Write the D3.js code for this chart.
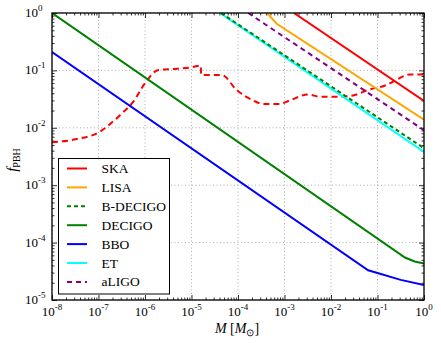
<!DOCTYPE html>
<html>
<head>
<meta charset="utf-8">
<script src="https://cdn.jsdelivr.net/npm/d3@7"></script>
<style>
  body { margin: 0; background: #fff; }
  svg text { font-family: "Liberation Serif", "Times New Roman", Times, serif; fill: #000; }
</style>
</head>
<body>
<div id="chart"></div>
<script>
// values (M in solar masses, f = f_PBH)
var skaM = [1.6e-3, 1];
var skaF = [1, 0.0295];
var lisaM = [4.2e-4, 6.8e-4, 1];
var lisaF = [1, 0.65, 0.0138];
var bdecigoM = [4.3e-5, 1];
var bdecigoF = [1, 4.4e-3];
var decigoM = [1e-8, 0.39, 0.63, 1];
var decigoF = [1, 5.5e-5, 4.7e-5, 4.3e-5];
var bboM = [1e-8, 0.063, 0.1, 0.316, 1];
var bboF = [0.209, 3.3e-5, 2.95e-5, 2.24e-5, 1.82e-5];
var etM = [4.1e-5, 1];
var etF = [1, 3.8e-3];
var aligoM = [1.66e-4, 1];
var aligoF = [1, 9.1e-3];

// red dashed constraint curve
var boundM = [1e-8, 3.2e-8, 1e-7, 2.9e-7, 5.6e-7, 1e-6, 1.95e-6, 4.1e-6, 1e-5, 1.58e-5, 1.62e-5, 4.5e-5,
  9.3e-5, 2.1e-4, 3.5e-4, 7.9e-4, 1.3e-3, 3.2e-3, 5.8e-3, 0.0158, 0.0355, 0.063, 0.158, 0.25, 0.5, 1];
var boundF = [5.6e-3, 6.3e-3, 8.3e-3, 0.0166, 0.0285, 0.0596, 0.102, 0.106, 0.113, 0.121, 0.083, 0.083,
  0.0457, 0.030, 0.026, 0.026, 0.030, 0.038, 0.0347, 0.0347, 0.038, 0.0457, 0.056, 0.068, 0.085, 0.085];

var xExps = [-8, -7, -6, -5, -4, -3, -2, -1, 0];
var yExps = [-5, -4, -3, -2, -1, 0];

var legendNames = ["SKA", "LISA", "B-DECIGO", "DECIGO", "BBO", "ET", "aLIGO"];

var W = 441, H = 343;
var padL = 52, padR = 424, padT = 13, padB = 300;

var svg = d3.select("#chart").append("svg")
  .attr("width", W)
  .attr("height", H);

var x = d3.scaleLog().domain([1e-8, 1]).range([padL, padR]);
var y = d3.scaleLog().domain([1e-5, 1]).range([padB, padT]);

var majorX = xExps.map(e => Math.pow(10, e));
var majorY = yExps.map(e => Math.pow(10, e));
var minorX = [], minorY = [];
xExps.slice(0, -1).forEach(e => { for (let k = 2; k < 10; k++) minorX.push(k * Math.pow(10, e)); });
yExps.slice(0, -1).forEach(e => { for (let k = 2; k < 10; k++) minorY.push(k * Math.pow(10, e)); });

//grid
var grid = svg.append("g");
majorX.forEach(v => {
  grid.append("line")
    .attr("x1", x(v)).attr("x2", x(v))
    .attr("y1", padT).attr("y2", padB)
    .attr("stroke", "#999").attr("stroke-width", 0.8)
    .attr("stroke-dasharray", "1,2.5");
});
majorY.forEach(v => {
  grid.append("line")
    .attr("x1", padL).attr("x2", padR)
    .attr("y1", y(v)).attr("y2", y(v))
    .attr("stroke", "#999").attr("stroke-width", 0.8)
    .attr("stroke-dasharray", "1,2.5");
});

//ticks, inward on all four sides
function tickAxis(axis, pos) {
  svg.append("g")
    .attr("transform", pos)
    .call(axis)
    .call(g => g.select(".domain").remove())
    .call(g => g.selectAll("line").attr("stroke", "#000").attr("stroke-width", 0.8));
}
tickAxis(d3.axisBottom(x).tickValues(majorX).tickSize(-5).tickFormat(""), `translate(0,${padB})`);
tickAxis(d3.axisBottom(x).tickValues(minorX).tickSize(-2.5).tickFormat(""), `translate(0,${padB})`);
tickAxis(d3.axisTop(x).tickValues(majorX).tickSize(-5).tickFormat(""), `translate(0,${padT})`);
tickAxis(d3.axisTop(x).tickValues(minorX).tickSize(-2.5).tickFormat(""), `translate(0,${padT})`);
tickAxis(d3.axisLeft(y).tickValues(majorY).tickSize(-5).tickFormat(""), `translate(${padL},0)`);
tickAxis(d3.axisLeft(y).tickValues(minorY).tickSize(-2.5).tickFormat(""), `translate(${padL},0)`);
tickAxis(d3.axisRight(y).tickValues(majorY).tickSize(-5).tickFormat(""), `translate(${padR},0)`);
tickAxis(d3.axisRight(y).tickValues(minorY).tickSize(-2.5).tickFormat(""), `translate(${padR},0)`);

//tick labels 10^n
function powLabel(g, e) {
  g.append("tspan").style("font-size", "13px").text("10");
  g.append("tspan").style("font-size", "9px").attr("dy", -6).text(e == 0 ? "0" : "-" + Math.abs(e));
}
xExps.forEach(e => {
  let t = svg.append("text")
    .attr("x", x(Math.pow(10, e)))
    .attr("y", 316)
    .attr("text-anchor", "middle");
  powLabel(t, e);
});
yExps.forEach(e => {
  let t = svg.append("text")
    .attr("x", 25)
    .attr("y", y(Math.pow(10, e)) + 4);
  powLabel(t, e);
});

//axis titles
var xt = svg.append("text")
  .attr("x", 237)
  .attr("y", 333)
  .attr("text-anchor", "middle")
  .style("font-size", "14px");
xt.append("tspan").style("font-style", "italic").text("M");
xt.append("tspan").text(" [");
xt.append("tspan").style("font-style", "italic").text("M");
xt.append("tspan").style("font-size", "10px").attr("dy", 3).text("\u2299");
xt.append("tspan").attr("dy", -3).text("]");

var yt = svg.append("text")
  .attr("transform", "translate(17,160) rotate(-90)")
  .attr("text-anchor", "middle")
  .style("font-size", "15px");
yt.append("tspan").style("font-style", "italic").text("f");
yt.append("tspan").style("font-size", "10px").attr("dy", 3).text("PBH");

//curves
svg.append("clipPath").attr("id", "plotclip")
  .append("rect")
  .attr("x", padL).attr("y", padT)
  .attr("width", padR - padL).attr("height", padB - padT);

var series = [
  { M: boundM, F: boundF, color: "#ff0000", dash: "6,4", curve: d3.curveMonotoneX },
  { M: decigoM, F: decigoF, color: "#008000", dash: null },
  { M: bboM, F: bboF, color: "#0000ff", dash: null },
  { M: etM, F: etF, color: "#00ffff", dash: null },
  { M: bdecigoM, F: bdecigoF, color: "#008000", dash: "4,3" },
  { M: aligoM, F: aligoF, color: "#800080", dash: "5,4" },
  { M: lisaM, F: lisaF, color: "#ffa500", dash: null },
  { M: skaM, F: skaF, color: "#ff0000", dash: null }
];

var plot = svg.append("g").attr("clip-path", "url(#plotclip)");
series.forEach(s => {
  let pts = s.M.map((m, i) => [m, s.F[i]]);
  let line = d3.line()
    .x(d => x(d[0]))
    .y(d => y(d[1]))
    .curve(s.curve || d3.curveLinear);
  plot.append("path")
    .attr("d", line(pts))
    .attr("fill", "none")
    .attr("stroke", s.color)
    .attr("stroke-width", 2)
    .attr("stroke-dasharray", s.dash);
});

//frame
svg.append("rect")
  .attr("x", padL).attr("y", padT)
  .attr("width", padR - padL).attr("height", padB - padT)
  .attr("fill", "none")
  .attr("stroke", "#000")
  .attr("stroke-width", 1.3);

//legend
var legendColors = ["#ff0000", "#ffa500", "#008000", "#008000", "#0000ff", "#00ffff", "#800080"];
var legendDash = [null, null, "4,3", null, null, null, "5,4"];
var legend = svg.append("g");
legend.append("rect")
  .attr("x", 58.5).attr("y", 158.5)
  .attr("width", 111).attr("height", 135.5)
  .attr("fill", "#fff")
  .attr("stroke", "#000")
  .attr("stroke-width", 1);
legendNames.forEach((name, i) => {
  let ly = 168.5 + i * 18.9;
  legend.append("line")
    .attr("x1", 67).attr("x2", 87)
    .attr("y1", ly).attr("y2", ly)
    .attr("stroke", legendColors[i])
    .attr("stroke-width", 2)
    .attr("stroke-dasharray", legendDash[i]);
  legend.append("text")
    .attr("x", 101.5)
    .attr("y", ly + 4.5)
    .style("font-size", "13.5px")
    .text(name);
});
</script>
</body>
</html>
